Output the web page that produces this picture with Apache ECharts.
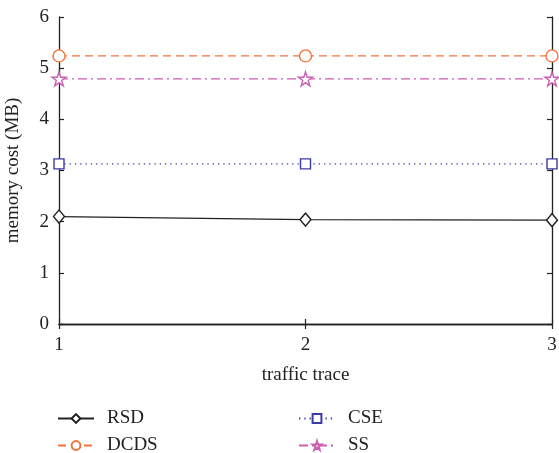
<!DOCTYPE html>
<html>
<head>
<meta charset="utf-8">
<script src="https://cdn.jsdelivr.net/npm/echarts@6/dist/echarts.min.js"></script>
<style>
  html, body { margin: 0; padding: 0; background: #fff; }
  #chart { width: 559px; height: 453px; }
</style>
</head>
<body>
<div id="chart"></div>
<script>
// Memory cost per traffic trace for each sketch method
const traces = [1, 2, 3];
const rsd  = [2.10, 2.04, 2.03];
const dcds = [5.24, 5.24, 5.24];
const cse  = [3.13, 3.13, 3.13];
const ss   = [4.79, 4.79, 4.79];
const yTicks = [0, 1, 2, 3, 4, 5, 6];

const FONT = '"Liberation Serif", "DejaVu Serif", serif';
const FS = 19;
const STAR = 'path://M50,2 L61,36 L97,36 L68,57 L79,92 L50,71 L21,92 L32,57 L3,36 L39,36 Z';

function pairs(vals) { return traces.map((t, i) => [t, vals[i]]); }

function mkSeries(name, vals, color, lineType, symbol, size) {
  return {
    name: name,
    type: 'line',
    data: pairs(vals),
    symbol: symbol,
    symbolSize: size,
    showSymbol: true,
    lineStyle: { color: color, width: 1.3, type: lineType },
    itemStyle: { color: '#fff', borderColor: color, borderWidth: 1.4 },
    emphasis: { disabled: true },
    animation: false,
    z: 3
  };
}

function mkLegend(name, left, top) {
  return {
    data: [name],
    left: left, top: top, padding: 0,
    itemWidth: 36, itemHeight: 11,
    textStyle: { fontFamily: FONT, fontSize: FS, color: '#222', padding: [0, 0, 0, 8] },
    selectedMode: false
  };
}

const boxAxisLine = { show: true, lineStyle: { color: '#222', width: 1.3 } };
const tickIn = { show: true, inside: true, length: 5, lineStyle: { color: '#222', width: 1.2 } };

const chart = echarts.init(document.getElementById('chart'));
chart.setOption({
  backgroundColor: '#fff',
  animation: false,
  grid: { left: 59, right: 7, top: 17, bottom: 129, containLabel: false, outerBoundsMode: 'none' },
  xAxis: [{
    type: 'value', min: 1, max: 3, interval: 1,
    name: 'traffic trace', nameLocation: 'middle', nameGap: 42,
    nameTextStyle: { fontFamily: FONT, fontSize: FS, color: '#222' },
    axisLine: boxAxisLine, axisTick: tickIn,
    axisLabel: { fontFamily: FONT, fontSize: FS, color: '#222', margin: 12 },
    splitLine: { show: false }
  }, {
    type: 'value', min: 1, max: 3, interval: 1, position: 'top',
    axisLine: boxAxisLine, axisTick: tickIn, axisLabel: { show: false }, splitLine: { show: false }
  }],
  yAxis: [{
    type: 'value', min: yTicks[0], max: yTicks[yTicks.length - 1], interval: 1,
    name: 'memory cost (MB)', nameLocation: 'middle', nameGap: 36,
    nameTextStyle: { fontFamily: FONT, fontSize: FS, color: '#222' },
    axisLine: boxAxisLine, axisTick: tickIn,
    axisLabel: { fontFamily: FONT, fontSize: FS, color: '#222', margin: 10 },
    splitLine: { show: false }
  }, {
    type: 'value', min: yTicks[0], max: yTicks[yTicks.length - 1], interval: 1, position: 'right',
    axisLine: boxAxisLine, axisTick: tickIn, axisLabel: { show: false }, splitLine: { show: false }
  }],
  legend: [
    mkLegend('RSD', 57, 409),
    mkLegend('DCDS', 57, 436),
    mkLegend('CSE', 298, 409),
    mkLegend('SS', 298, 436)
  ],
  series: [
    mkSeries('RSD', rsd, '#222222', 'solid', 'diamond', [11, 13]),
    mkSeries('DCDS', dcds, '#F4733D', [8, 5], 'circle', 12),
    mkSeries('CSE', cse, '#3B3BA6', [1.3, 4], 'rect', 10),
    mkSeries('SS', ss, '#C85FB0', [9, 4, 2, 4], STAR, 14)
  ]
});
</script>
</body>
</html>
